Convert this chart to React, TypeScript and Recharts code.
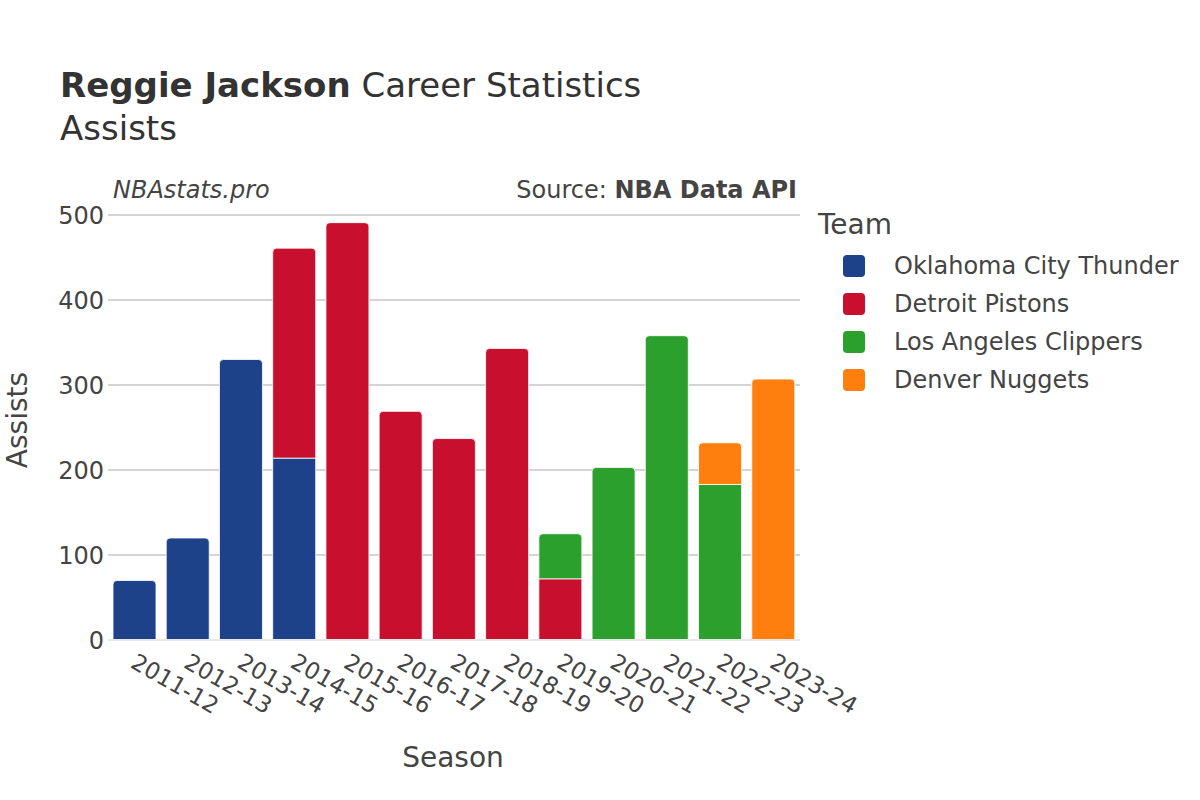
import React from "react";
import {
  BarChart,
  Bar,
  XAxis,
  YAxis,
  CartesianGrid,
  ReferenceLine,
} from "recharts";

const seasons = [
  "2011-12", "2012-13", "2013-14", "2014-15", "2015-16", "2016-17", "2017-18",
  "2018-19", "2019-20", "2020-21", "2021-22", "2022-23", "2023-24",
];
const okc = [70, 120, 330, 214, 0, 0, 0, 0, 0, 0, 0, 0, 0];
const det = [0, 0, 0, 247, 491, 269, 237, 343, 72, 0, 0, 0, 0];
const lac = [0, 0, 0, 0, 0, 0, 0, 0, 53, 203, 358, 183, 0];
const den = [0, 0, 0, 0, 0, 0, 0, 0, 0, 0, 0, 49, 307];
const yTicks = [0, 100, 200, 300, 400, 500];

const teams = [
  { key: "okc", name: "Oklahoma City Thunder", color: "#1d428a" },
  { key: "det", name: "Detroit Pistons", color: "#c8102e" },
  { key: "lac", name: "Los Angeles Clippers", color: "#2ca02c" },
  { key: "den", name: "Denver Nuggets", color: "#ff7f0e" },
];

const data = seasons.map((s, i) => ({
  season: s,
  okc: okc[i],
  det: det[i],
  lac: lac[i],
  den: den[i],
}));

const FONT = "'DejaVu Sans', sans-serif";
const TEXT = "#444";

// only the top segment of each stack gets rounded corners
function makeShape(key: string) {
  return (props: any) => {
    const { x, y, width, height, fill, payload } = props;
    if (!height || height <= 0) return <g />;
    let top = "";
    teams.forEach((t) => {
      if (payload && payload[t.key] > 0) top = t.key;
    });
    const r = top === key ? Math.min(4, height) : 0;
    const d = `M${x},${y + height} L${x},${y + r} Q${x},${y} ${x + r},${y} L${x + width - r},${y} Q${x + width},${y} ${x + width},${y + r} L${x + width},${y + height} Z`;
    return <path d={d} fill={fill} stroke="#fff" strokeWidth={0.8} />;
  };
}

const SeasonTick = (props: any) => {
  const { x, y, payload } = props;
  const tx = x - 2;
  const ty = y + 13;
  return (
    <text
      x={tx}
      y={ty}
      transform={`rotate(30 ${tx} ${ty})`}
      textAnchor="start"
      dominantBaseline="middle"
      fontSize={23}
      fontFamily={FONT}
      fill={TEXT}
    >
      {payload.value}
    </text>
  );
};

export default function App() {
  return (
    <div
      style={{
        position: "absolute",
        left: 0,
        top: 0,
        width: 1200,
        height: 800,
        background: "#fff",
        fontFamily: FONT,
        color: TEXT,
      }}
    >
      <BarChart
        width={1200}
        height={800}
        data={data}
        margin={{ top: 215, right: 400, bottom: 0, left: 0 }}
      >
        <CartesianGrid vertical={false} stroke="#aaa" strokeWidth={1} />
        <XAxis
          dataKey="season"
          axisLine={false}
          tickLine={false}
          interval={0}
          tick={<SeasonTick />}
          height={160}
        />
        <YAxis
          width={108}
          domain={[0, 500]}
          ticks={yTicks}
          axisLine={false}
          tickLine={false}
          tickSize={0}
          tickMargin={4}
          tick={{ fontSize: 24, fill: TEXT, fontFamily: FONT }}
        />
        <ReferenceLine y={0} stroke="#e8e8e8" strokeWidth={2} />
        {teams.map((t) => (
          <Bar
            key={t.key}
            dataKey={t.key}
            name={t.name}
            stackId="a"
            fill={t.color}
            barSize={43}
            shape={makeShape(t.key)}
            isAnimationActive={false}
          />
        ))}
      </BarChart>

      <div style={{ position: "absolute", left: 60, top: 64, fontSize: 34, color: "#333", whiteSpace: "nowrap", lineHeight: "43px" }}>
        <b>Reggie Jackson</b> Career Statistics
        <br />
        Assists
      </div>
      <div style={{ position: "absolute", left: 113, top: 176, fontSize: 24, fontStyle: "italic", color: TEXT }}>
        NBAstats.pro
      </div>
      <div style={{ position: "absolute", right: 1200 - 797, top: 176, fontSize: 24, color: TEXT, whiteSpace: "nowrap" }}>
        Source: <b>NBA Data API</b>
      </div>
      <div
        style={{
          position: "absolute",
          left: 17,
          top: 420,
          fontSize: 28,
          color: TEXT,
          transform: "translate(-50%, -50%) rotate(-90deg)",
          whiteSpace: "nowrap",
        }}
      >
        Assists
      </div>
      <div style={{ position: "absolute", left: 453, top: 741, fontSize: 28, color: TEXT, transform: "translateX(-50%)" }}>
        Season
      </div>

      <div style={{ position: "absolute", left: 818, top: 208, fontSize: 28, color: TEXT }}>Team</div>
      {teams.map((t, i) => (
        <div
          key={t.key}
          style={{
            position: "absolute",
            left: 843,
            top: 254 + i * 38,
            height: 24,
            display: "flex",
            alignItems: "center",
            whiteSpace: "nowrap",
          }}
        >
          <div style={{ width: 22, height: 22, borderRadius: 4, background: t.color }} />
          <span style={{ marginLeft: 29, fontSize: 24, color: TEXT }}>{t.name}</span>
        </div>
      ))}
    </div>
  );
}
